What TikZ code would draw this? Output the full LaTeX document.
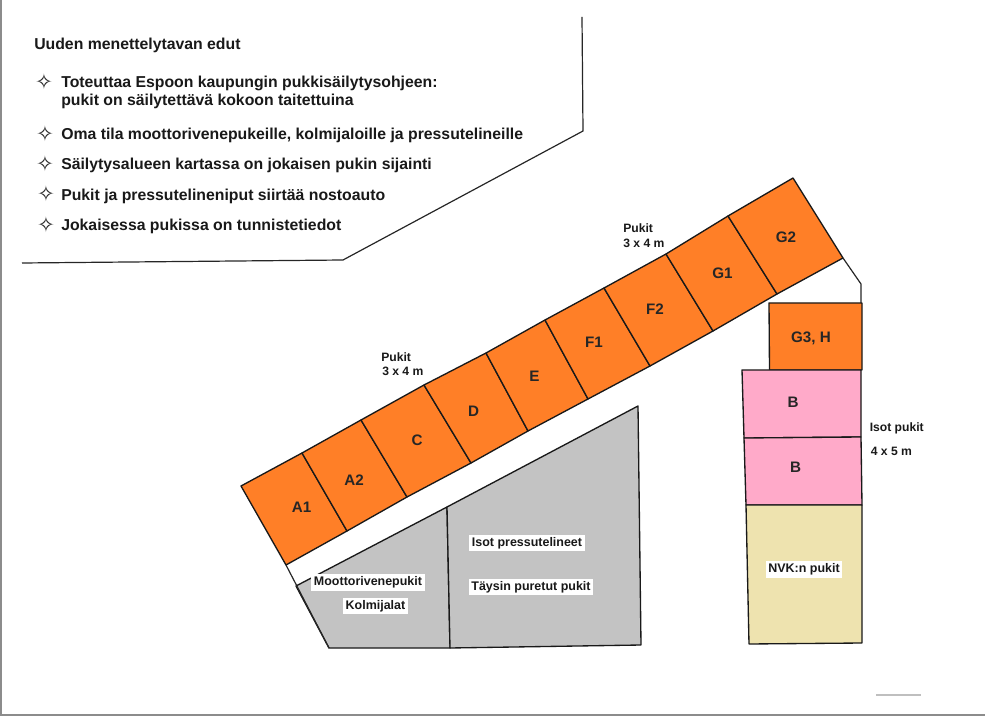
\documentclass[tikz,border=0pt]{standalone}
\usepackage{fontspec}
\setmainfont{Liberation Sans}
\newfontfamily\starfont{DejaVu Sans}
\usetikzlibrary{positioning}
\definecolor{bayorange}{HTML}{FF7F27}
\definecolor{baypink}{HTML}{FFAAC9}
\definecolor{baysand}{HTML}{EEE3AF}
\definecolor{baygrey}{HTML}{C3C3C3}

\begin{document}
\begin{tikzpicture}[
    x=0.75pt, y=-0.75pt,
    bay/.style={draw=black!90, line width=1pt, line join=round},
    edge/.style={draw=black!85, line width=0.9pt},
    scan/.style={draw=black!45, line width=0.9pt},
    point/.style={anchor=west, font=\fontsize{11.85}{14}\selectfont\bfseries, inner sep=0pt, text=black!90},
    star/.style={font=\fontsize{16}{16}\starfont, inner sep=0pt, text=black!85},
    baylabel/.style={font=\fontsize{11.4}{13}\selectfont\bfseries, inner sep=0pt, text=black!85},
    dimlabel/.style={anchor=west, font=\fontsize{9.1}{11}\selectfont\bfseries, inner sep=0pt, text=black!90},
    tag/.style={fill=white, font=\fontsize{9.35}{11}\selectfont\bfseries, inner sep=2pt, text=black!90}
]
\useasboundingbox (0,0) rectangle (985,716);

% page edges of the scan
\draw[scan] (1,0) -- (1,716);
\draw[scan] (0,715) -- (985,715);
\draw[scan, draw=black!25] (876,695) -- (921,695);

% text frame
\draw[edge] (582,17) -- (583,131) -- (343,260) -- (22,263);
\node[point] (title) at (34,45.5) {Uuden menettelytavan edut};
\node[point] (p1) at (61,83) {Toteuttaa Espoon kaupungin pukkisäilytysohjeen:};
\node[point] (p1b) at (61,101) {pukit on säilytettävä kokoon taitettuina};
\node[point] (p2) at (61,135.5) {Oma tila moottorivenepukeille, kolmijaloille ja pressutelineille};
\node[point] (p3) at (61,165.5) {Säilytysalueen kartassa on jokaisen pukin sijainti};
\node[point] (p4) at (61,196) {Pukit ja pressutelineniput siirtää nostoauto};
\node[point] (p5) at (61,226.5) {Jokaisessa pukissa on tunnistetiedot};
\node[star] (s1) at (44,81.5) {✧};
\node[star] (s2) at (45,133.5) {✧};
\node[star] (s3) at (45,163.5) {✧};
\node[star] (s4) at (46,193.5) {✧};
\node[star] (s5) at (46,224.5) {✧};

% diagonal row
\draw[bay, fill=bayorange] (241,486) -- (302,453) -- (347,531) -- (286,565) -- cycle;
\draw[bay, fill=bayorange] (302,453) -- (361,420) -- (407,497) -- (347,531) -- cycle;
\draw[bay, fill=bayorange] (361,420) -- (424,385) -- (471,463) -- (407,497) -- cycle;
\draw[bay, fill=bayorange] (424,385) -- (486,353) -- (528,431) -- (471,463) -- cycle;
\draw[bay, fill=bayorange] (486,353) -- (545,320) -- (588,399) -- (528,431) -- cycle;
\draw[bay, fill=bayorange] (545,320) -- (604,288) -- (650,366) -- (588,399) -- cycle;
\draw[bay, fill=bayorange] (604,288) -- (666,254) -- (713,331) -- (650,366) -- cycle;
\draw[bay, fill=bayorange] (666,254) -- (728,216) -- (777,294) -- (713,331) -- cycle;
\draw[bay, fill=bayorange] (728,216) -- (793,178) -- (843,258) -- (777,294) -- cycle;
\node[baylabel] (a1) at (301.5,507) {A1};
\node[baylabel] (a2) at (354,480) {A2};
\node[baylabel] (c) at (417,440) {C};
\node[baylabel] (d) at (473.5,411) {D};
\node[baylabel] (e) at (534.5,376.5) {E};
\node[baylabel] (f1) at (594,342.5) {F1};
\node[baylabel] (f2) at (655,309.5) {F2};
\node[baylabel] (g1) at (722.5,273.5) {G1};
\node[baylabel] (g2) at (786,237.5) {G2};
\node[dimlabel] (pukit1) at (381,357) {Pukit};
\node[dimlabel] (size1) at (382,371.5) {3 x 4 m};
\node[dimlabel] (pukit2) at (623,228) {Pukit};
\node[dimlabel] (size2) at (623,243.5) {3 x 4 m};

% grey area
\draw[bay, fill=baygrey] (296,586) -- (447,507) -- (450,648) -- (329,648) -- cycle;
\draw[bay, fill=baygrey] (447,507) -- (638,406) -- (641,645) -- (450,648) -- cycle;
\draw[edge] (286,565) -- (329,648);
\node[tag] (moottori) at (368,582.5) {Moottorivenepukit};
\node[tag] (kolmi) at (375.5,606) {Kolmijalat};
\node[tag] (isot) at (527,543) {Isot pressutelineet};
\node[tag] (taysin) at (531,587) {Täysin puretut pukit};

% right column
\draw[edge] (843,258) -- (861,284) -- (861,303);
\draw[bay, fill=bayorange] (769,303) -- (862,303) -- (862,370) -- (769.5,370) -- cycle;
\draw[bay, fill=baypink] (742,370) -- (861,370) -- (861,437) -- (744,438) -- cycle;
\draw[bay, fill=baypink] (744,438) -- (861,437) -- (862,505) -- (746,505) -- cycle;
\draw[bay, fill=baysand] (746,505) -- (862,505) -- (862,643) -- (749,644) -- cycle;
\node[baylabel] (g3) at (811,338) {G3, H};
\node[baylabel] (b1) at (793,402) {B};
\node[baylabel] (b2) at (795.5,467.5) {B};
\node[tag] (nvk) at (804,569.5) {NVK:n pukit};
\node[dimlabel] (isopukit) at (869.5,428) {Isot pukit};
\node[dimlabel] (size3) at (870.5,451.5) {4 x 5 m};
\end{tikzpicture}
\end{document}
